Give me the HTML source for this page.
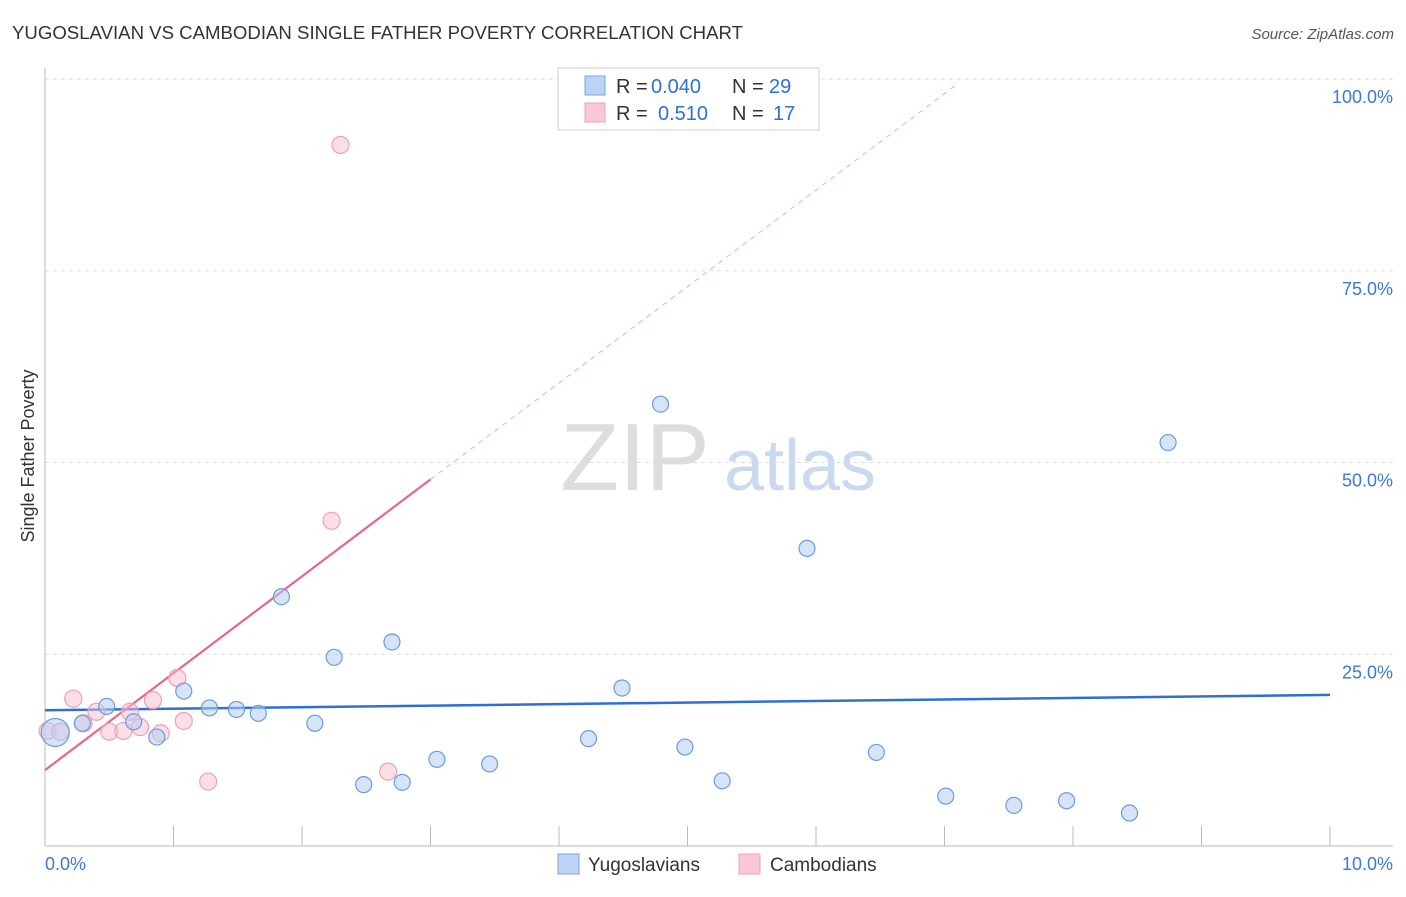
<!DOCTYPE html>
<html><head><meta charset="utf-8"><style>
body{margin:0;background:#fff;font-family:"Liberation Sans",sans-serif;}
svg text{font-family:"Liberation Sans",sans-serif;}
</style></head><body>
<svg id="chart" width="1406" height="892" xmlns="http://www.w3.org/2000/svg">
<text x="12" y="39" font-size="18" fill="#333" textLength="731" lengthAdjust="spacingAndGlyphs">YUGOSLAVIAN VS CAMBODIAN SINGLE FATHER POVERTY CORRELATION CHART</text>
<text x="1394" y="39" font-size="15" fill="#555" text-anchor="end" font-style="italic">Source: ZipAtlas.com</text>
<text transform="translate(34,456) rotate(-90)" font-size="18" fill="#333" text-anchor="middle">Single Father Poverty</text>
<g>
<text x="635" y="490" font-size="96" fill="#ddd" font-family="Liberation Serif" text-anchor="middle">ZIP</text>
<text x="800" y="490" font-size="72" fill="#c9d9f0" text-anchor="middle">atlas</text>
</g>
<g id="grid"></g><g id="axes"></g><g id="lines"></g><g id="pts"></g>
<g font-size="20">
<rect x="558" y="68" width="261" height="62" fill="#fff" stroke="#ccc"/>
<rect x="585" y="76" width="20" height="19" fill="#bcd3f5" stroke="#7aa3e0"/>
<rect x="585" y="103" width="20" height="19" fill="#f9c8d6" stroke="#eda0b6"/>
<text x="616" y="93" fill="#333">R =</text><text x="651" y="93" fill="#2f6fd6">0.040</text>
<text x="732" y="93" fill="#333">N =</text><text x="769" y="93" fill="#2f6fd6">29</text>
<text x="616" y="120" fill="#333">R =</text><text x="658" y="120" fill="#2f6fd6">0.510</text>
<text x="732" y="120" fill="#333">N =</text><text x="773" y="120" fill="#2f6fd6">17</text>
</g>
<g>
<rect x="558" y="854" width="21" height="20" fill="#bcd3f5" stroke="#7aa3e0"/>
<text x="588" y="871" font-size="19" fill="#333">Yugoslavians</text>
<rect x="739" y="854" width="21" height="20" fill="#f9c8d6" stroke="#eda0b6"/>
<text x="770" y="871" font-size="19" fill="#333">Cambodians</text>
</g>
</svg>
<script>
const yTicks=[25,50,75,100];
const yTickLabels=["25.0%","50.0%","75.0%","100.0%"];
const blueX=[0.08,0.29,0.48,0.69,0.87,1.08,1.28,1.49,1.66,1.84,2.10,2.25,2.48,2.70,2.78,3.05,3.46,4.23,4.49,4.79,4.98,5.27,5.93,6.47,7.01,7.54,7.95,8.44,8.74];
const blueY=[14.8,16.0,18.2,16.2,14.2,20.2,18.0,17.8,17.3,32.5,16.0,24.6,8.0,26.6,8.3,11.3,10.7,14.0,20.6,57.6,12.9,8.5,38.8,12.2,6.5,5.3,5.9,4.3,52.6];
const blueR=[14,8,8,8,8,8,8,8,8,8,8,8,8,8,8,8,8,8,8,8,8,8,8,8,8,8,8,8,8];
const pinkX=[0.02,0.12,0.22,0.30,0.40,0.50,0.61,0.66,0.74,0.84,0.90,1.03,1.08,1.27,2.23,2.30,2.67];
const pinkY=[15.0,14.9,19.2,16.0,17.5,14.9,15.0,17.5,15.5,19.0,14.7,21.9,16.3,8.4,42.4,91.4,9.7];
const blueTrend=[17.7,19.7];
const pinkTrend=[9.9,47.8,99.1];
const pinkTrendX=[0,3.0,7.08];
const NS="http://www.w3.org/2000/svg";
const xs=v=>45+v*128.5, ys=v=>846-v*7.67;
function mk(tag,attrs,parent){const e=document.createElementNS(NS,tag);for(const k in attrs)e.setAttribute(k,attrs[k]);document.getElementById(parent).appendChild(e);return e;}
yTicks.forEach((t,i)=>{
 const l=mk('line',{x1:45,x2:1393,y1:ys(t),y2:ys(t),stroke:'#ddd','stroke-dasharray':'4,4'},'grid');
 
 
 const tx=mk('text',{x:1393,y:ys(t)+24,'font-size':18,fill:'#3b78d8','text-anchor':'end'},'grid');
 tx.textContent=yTickLabels[i];
 
 
});
const ax=mk('line',{x1:45,x2:45,y1:68,y2:846,stroke:'#bbb'},'axes');


const bx=mk('line',{x1:45,x2:1393,y1:846,y2:846,stroke:'#bbb'},'axes');


for(let i=1;i<=10;i++){const t=mk('line',{x1:xs(i),x2:xs(i),y1:826,y2:846,stroke:'#bbb'},'axes');
 
 }
[[0,"0.0%","start",45],[10,"10.0%","end",1393]].forEach(a=>{const t=mk('text',{x:a[3],y:870,'font-size':18,fill:'#3b78d8','text-anchor':a[2]},'axes');t.textContent=a[1];
 
 });
pinkX.forEach((x,i)=>{const c=mk('circle',{cx:xs(x),cy:ys(pinkY[i]),r:8.5,fill:'rgba(249,190,208,0.5)',stroke:'#eda0b6','stroke-width':1.2},'pts');
 
 });
blueX.forEach((x,i)=>{const c=mk('circle',{cx:xs(x),cy:ys(blueY[i]),r:blueR[i],fill:'rgba(180,205,242,0.55)',stroke:'#6b9be0','stroke-width':1.2},'pts');
 
 });
const bl=mk('line',{x1:xs(0),x2:xs(10),y1:ys(blueTrend[0]),y2:ys(blueTrend[1]),stroke:'#2d6fd6','stroke-width':2.5},'lines');


const pl=mk('line',{x1:xs(pinkTrendX[0]),x2:xs(pinkTrendX[1]),y1:ys(pinkTrend[0]),y2:ys(pinkTrend[1]),stroke:'#e8658e','stroke-width':2.2},'lines');


const pd=mk('line',{x1:xs(pinkTrendX[1]),x2:xs(pinkTrendX[2]),y1:ys(pinkTrend[1]),y2:ys(pinkTrend[2]),stroke:'#f0a5bc','stroke-width':1,'stroke-dasharray':'5,5'},'lines');


</script>
</body></html>
